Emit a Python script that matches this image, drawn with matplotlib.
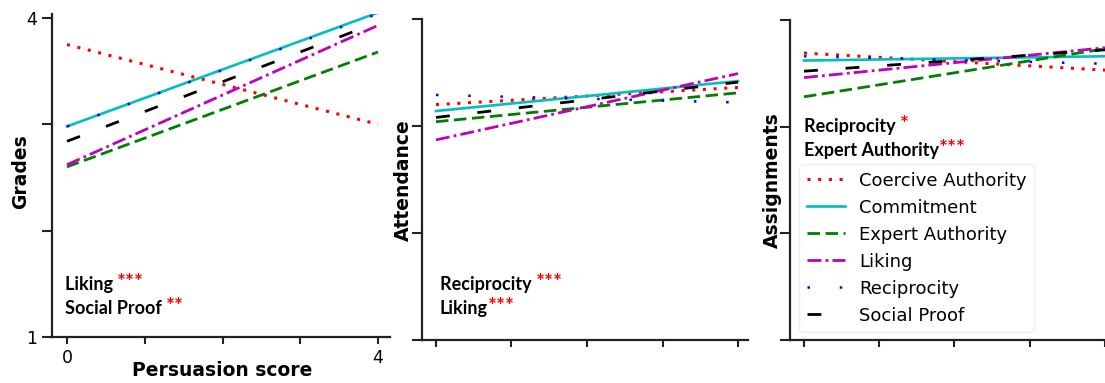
import matplotlib
matplotlib.use("Agg")
import matplotlib.pyplot as plt

W, H = 1105, 383

series = ["Coercive Authority", "Commitment", "Expert Authority", "Liking", "Reciprocity", "Social Proof"]
x_ends = [0, 4]
grades = [[3.75, 3.00], [2.98, 4.05], [2.60, 3.68], [2.62, 3.93], [2.98, 4.04], [2.84, 3.96]]
attendance = [[3.20, 3.36], [3.14, 3.42], [3.04, 3.31], [2.87, 3.49], [3.29, 3.22], [3.08, 3.41]]
assignments = [[3.69, 3.53], [3.62, 3.66], [3.28, 3.73], [3.46, 3.74], [3.66, 3.59], [3.52, 3.72]]

colors = ["r", "c", "g", "m", "b", "k"]
styles = [(0, (1, 2.5)), "-", (0, (4.5, 2)), (0, (5, 1.5, 1, 1.5)), (0, (1, 11.9)), (0, (5, 10))]
widths = [2.2, 1.9, 2.0, 2.0, 1.8, 2.0]

fig = plt.figure(figsize=(W / 100, H / 100), dpi=100)


def px_axes(left, right, top, bottom):
    return fig.add_axes([left / W, 1 - bottom / H, (right - left) / W, (bottom - top) / H])


def style_axes(ax):
    for s in ["top", "right"]:
        ax.spines[s].set_visible(False)
    for s in ["left", "bottom"]:
        ax.spines[s].set_linewidth(1.6)
        ax.spines[s].set_color("#222222")
    ax.tick_params(axis="y", length=7, width=1.5, color="#222222", labelsize=12.5)
    ax.tick_params(axis="x", length=5, width=1.5, color="#222222", labelsize=12.5)
    ax.set_xticks([0, 1, 2, 3, 4])
    ax.set_yticks([1, 2, 3, 4])


def draw(ax, data):
    for name, vals, c, ls, lw in zip(series, data, colors, styles, widths):
        ax.plot(x_ends, vals, color=c, linestyle=ls, linewidth=lw, label=name)


def note(x, y, label, stars):
    t = fig.text(x / W, 1 - y / H, label, fontfamily="Lato", fontweight="bold",
                 fontsize=13, va="baseline", ha="left")
    fig.add_artist(plt.Annotation(stars, xy=(1, 0), xycoords=t, xytext=(0, 2.6),
                                  textcoords="offset points", va="baseline", ha="left",
                                  color="red", fontfamily="Lato", fontweight="bold",
                                  fontsize=15))


# Panel 1: Grades
ax1 = px_axes(52, 390, 13.7, 337)
draw(ax1, grades)
ax1.set_xlim(-0.193, 4.154)
ax1.set_ylim(1, 4.04)
style_axes(ax1)
ax1.set_xticklabels(["0", "", "", "", "4"])
ax1.set_yticklabels(["1", "", "", "4"])

# Panel 2: Attendance
ax2 = px_axes(422, 748, 19, 340)
draw(ax2, attendance)
ax2.set_xlim(-0.185, 4.132)
ax2.set_ylim(1, 4.0)
style_axes(ax2)
ax2.set_xticklabels([])
ax2.set_yticklabels([])

# Panel 3: Assignments
ax3 = px_axes(790, 1115, 20, 340)
draw(ax3, assignments)
ax3.set_xlim(-0.186, 4.133)
ax3.set_ylim(1, 4.0)
style_axes(ax3)
ax3.set_xticklabels([])
ax3.set_yticklabels([])
leg = ax3.legend(loc="lower left", bbox_to_anchor=(0.029, 0.025), borderaxespad=0,
                 fontsize=13, handlelength=2.1, frameon=True)
leg.get_frame().set_edgecolor("0.92")

# axis labels
lab = dict(fontweight="bold", fontsize=13.5, ha="center", va="center")
fig.text(21 / W, 1 - 172 / H, "Grades", rotation=90, **lab)
fig.text(403 / W, 1 - 180 / H, "Attendance", rotation=90, **lab)
fig.text(772 / W, 1 - 180 / H, "Assignments", rotation=90, **lab)
fig.text(222 / W, 1 - 370 / H, "Persuasion score", **lab)

# significance notes (baseline positions in pixels)
note(65, 290, "Liking ", "***")
note(65, 314, "Social Proof ", "**")
note(440, 290, "Reciprocity ", "***")
note(440, 314, "Liking", "***")
note(804, 132, "Reciprocity ", "*")
note(804, 156, "Expert Authority", "***")

fig.savefig("out.png", dpi=100)
